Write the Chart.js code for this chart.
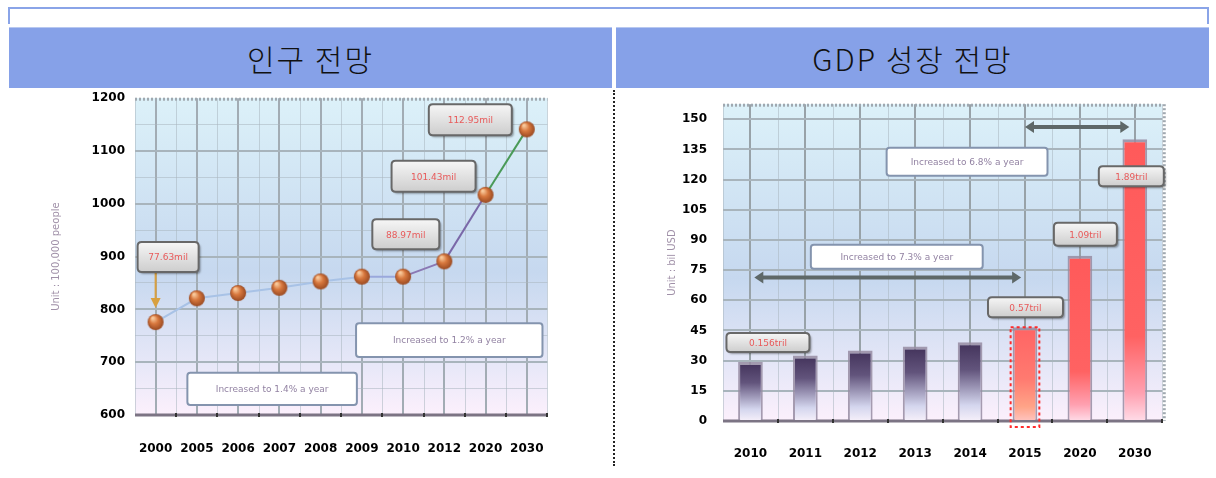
<!DOCTYPE html>
<html>
<head>
<meta charset="utf-8">
<script src="https://cdn.jsdelivr.net/npm/chart.js@4/dist/chart.umd.min.js"></script>
<style>
  body { margin:0; background:#fff; width:1216px; height:478px; position:relative; overflow:hidden; }
  .topline { position:absolute; left:8px; top:7px; width:1201px; height:2px; background:#8aa4e8; }
  .sideL { position:absolute; left:8px; top:7px; width:2px; height:17px; background:#8aa4e8; }
  .sideR { position:absolute; left:1207px; top:7px; width:2px; height:17px; background:#8aa4e8; }
  .head { position:absolute; top:27px; height:60px; background:#86a1e8; color:#111;
          font-family:"Noto Sans CJK KR", sans-serif; font-weight:300; font-size:30px; letter-spacing:2px;
          line-height:60px; text-align:center; border-top:1px solid #b8c8f0; }
  .sep { position:absolute; left:613px; top:90px; height:376px; border-left:2px dotted #222; }
  canvas { position:absolute; }
</style>
</head>
<body>
<div class="topline"></div><div class="sideL"></div><div class="sideR"></div>
<div class="head" style="left:9px;width:603px;">인구 전망</div>
<div class="head" style="left:616px;width:593px;">GDP 성장 전망</div>
<div class="sep"></div>
<canvas id="popChart" style="left:40px;top:81px;" width="531" height="384"></canvas>
<canvas id="gdpChart" style="left:660px;top:81px;" width="518" height="384"></canvas>
<script>
// population (unit: 100,000 people)
var popYears = ["2000","2005","2006","2007","2008","2009","2010","2012","2020","2030"];
var popValues = [776, 821, 831, 841, 853, 862, 862, 891, 1017, 1141];
var popLabels = ["77.63mil", "", "", "", "", "", "", "88.97mil", "101.43mil", "112.95mil"];

// GDP
var gdpYears = ["2010","2011","2012","2013","2014","2015","2020","2030"];
var gdpValues = [29.3, 32.6, 35.1, 37.1, 39.2, 46.6, 82.2, 140.1];
var gdpLabels = ["0.156tril", "", "", "", "", "0.57tril", "1.09tril", "1.89tril"];

var tickFont = { family: "DejaVu Sans", size: 12, weight: "bold" };

function ball(r) {
  var c = document.createElement('canvas');
  c.width = c.height = 2 * r + 2;
  var g = c.getContext('2d');
  var grad = g.createRadialGradient(r * 0.75, r * 0.6, 1, r + 1, r + 1, r);
  grad.addColorStop(0, '#f8c89a');
  grad.addColorStop(0.45, '#d8783e');
  grad.addColorStop(1, '#9a4a22');
  g.fillStyle = grad;
  g.beginPath(); g.arc(r + 1, r + 1, r, 0, Math.PI * 2); g.fill();
  return c;
}

function plotBg(chart) {
  var a = chart.chartArea, ctx = chart.ctx;
  var g = ctx.createLinearGradient(0, a.top, 0, a.bottom);
  g.addColorStop(0, '#dcf1f9');
  g.addColorStop(0.55, '#c6d8ef');
  g.addColorStop(0.85, '#e8e8f8');
  g.addColorStop(1, '#fcf0fc');
  ctx.save();
  ctx.fillStyle = g;
  ctx.fillRect(a.left, a.top, a.right - a.left, a.bottom - a.top);
  // minor vertical lines between categories
  var xs = chart.scales.x, n = chart.data.labels.length;
  ctx.strokeStyle = 'rgba(170,182,192,0.55)';
  ctx.lineWidth = 1;
  for (var i = 0; i <= n; i++) {
    var x = Math.round(xs.getPixelForValue(i - 0.5)) + 0.5;
    ctx.beginPath(); ctx.moveTo(x, a.top); ctx.lineTo(x, a.bottom); ctx.stroke();
  }
  ctx.restore();
}

function frame(chart, dottedRight) {
  var a = chart.chartArea, ctx = chart.ctx, xs = chart.scales.x, n = chart.data.labels.length;
  ctx.save();
  ctx.strokeStyle = '#a0a8b0';
  ctx.lineWidth = 3;
  ctx.setLineDash([2, 2]);
  ctx.beginPath(); ctx.moveTo(a.left, a.top + 1); ctx.lineTo(a.right, a.top + 1); ctx.stroke();
  if (dottedRight) {
    ctx.beginPath(); ctx.moveTo(a.right + 2, a.top); ctx.lineTo(a.right + 2, a.bottom); ctx.stroke();
  }
  ctx.setLineDash([]);
  // axis bar and small marks
  ctx.strokeStyle = '#7c7484';
  ctx.lineWidth = 3;
  ctx.beginPath(); ctx.moveTo(a.left, a.bottom); ctx.lineTo(a.right, a.bottom); ctx.stroke();
  ctx.fillStyle = '#333';
  for (var i = 0; i < n; i++) {
    var x = Math.round(xs.getPixelForValue(i + 0.5));
    ctx.fillRect(x - 1, a.bottom - 2, 2, 4);
  }
  ctx.restore();
}

function roundRect(ctx, x, y, w, h, r) {
  ctx.beginPath();
  ctx.moveTo(x + r, y); ctx.lineTo(x + w - r, y); ctx.quadraticCurveTo(x + w, y, x + w, y + r);
  ctx.lineTo(x + w, y + h - r); ctx.quadraticCurveTo(x + w, y + h, x + w - r, y + h);
  ctx.lineTo(x + r, y + h); ctx.quadraticCurveTo(x, y + h, x, y + h - r);
  ctx.lineTo(x, y + r); ctx.quadraticCurveTo(x, y, x + r, y);
  ctx.closePath();
}

function valueBox(ctx, x, y, w, h, text) {
  ctx.save();
  ctx.shadowColor = 'rgba(0,0,0,0.35)';
  ctx.shadowOffsetX = 2; ctx.shadowOffsetY = 2; ctx.shadowBlur = 2;
  var g = ctx.createLinearGradient(0, y, 0, y + h);
  g.addColorStop(0, '#f6f6f6'); g.addColorStop(1, '#cdcdcd');
  roundRect(ctx, x, y, w, h, 4);
  ctx.fillStyle = g; ctx.fill();
  ctx.shadowColor = 'transparent';
  ctx.strokeStyle = '#686868'; ctx.lineWidth = 2; ctx.stroke();
  ctx.fillStyle = '#e85a5a';
  ctx.font = '9px "DejaVu Sans"';
  ctx.textAlign = 'center'; ctx.textBaseline = 'middle';
  ctx.fillText(text, x + w / 2, y + h / 2 + 1);
  ctx.restore();
}

function noteBox(ctx, x1, y1, x2, y2, text) {
  ctx.save();
  roundRect(ctx, x1, y1, x2 - x1, y2 - y1, 3);
  ctx.fillStyle = '#ffffff'; ctx.fill();
  ctx.strokeStyle = '#8494ae'; ctx.lineWidth = 2; ctx.stroke();
  ctx.fillStyle = '#9282a2';
  ctx.font = '9px "DejaVu Sans"';
  ctx.textAlign = 'center'; ctx.textBaseline = 'middle';
  ctx.fillText(text, (x1 + x2) / 2, (y1 + y2) / 2 + 1);
  ctx.restore();
}

function dblArrow(ctx, x1, x2, y) {
  ctx.save();
  ctx.strokeStyle = '#5e6868'; ctx.fillStyle = '#5e6868';
  ctx.lineWidth = 4;
  ctx.beginPath(); ctx.moveTo(x1 + 6, y); ctx.lineTo(x2 - 6, y); ctx.stroke();
  [[x1, 1], [x2, -1]].forEach(function (p) {
    ctx.beginPath();
    ctx.moveTo(p[0], y); ctx.lineTo(p[0] + 9 * p[1], y - 6); ctx.lineTo(p[0] + 9 * p[1], y + 6);
    ctx.closePath(); ctx.fill();
  });
  ctx.restore();
}

// label boxes placed around their point: [dx, dy, w, h]
var popBoxPos = { 0: [-18, -80, 61, 30], 7: [-72, -42, 67, 30], 8: [-94, -34, 84, 31], 9: [-98, -25, 83, 31] };
var gdpBoxPos = { 0: [-24, -29, 83, 19], 5: [-37, -30, 75, 20], 6: [-26, -33, 63, 23], 7: [-36, 27, 65, 20] };

var popPlugin = {
  id: 'popDecor',
  beforeDatasetsDraw: function (chart) { frame(chart, false); },
  beforeDraw: function (chart) { plotBg(chart); },
  afterDatasetsDraw: function (chart) {
    var ctx = chart.ctx, xs = chart.scales.x, ys = chart.scales.y;
    var pts = chart.getDatasetMeta(0).data;
    noteBox(ctx, xs.getPixelForValue(4.86), ys.getPixelForValue(774), xs.getPixelForValue(9.38), ys.getPixelForValue(710), 'Increased to 1.2% a year');
    noteBox(ctx, xs.getPixelForValue(0.77), ys.getPixelForValue(680), xs.getPixelForValue(4.88), ys.getPixelForValue(619), 'Increased to 1.4% a year');
    // arrow from first label to first point
    var p0 = pts[0];
    ctx.save();
    ctx.strokeStyle = '#d8a040'; ctx.fillStyle = '#d8a040'; ctx.lineWidth = 2;
    ctx.beginPath(); ctx.moveTo(p0.x, p0.y - 50); ctx.lineTo(p0.x, p0.y - 22); ctx.stroke();
    ctx.beginPath(); ctx.moveTo(p0.x, p0.y - 14); ctx.lineTo(p0.x - 5, p0.y - 24); ctx.lineTo(p0.x + 5, p0.y - 24); ctx.closePath(); ctx.fill();
    ctx.restore();
    popLabels.forEach(function (t, i) {
      if (!t) return;
      var b = popBoxPos[i];
      valueBox(ctx, pts[i].x + b[0], pts[i].y + b[1], b[2], b[3], t);
    });
  }
};

var lineColors = ['#a8c2e6', '#a8c2e6', '#a8c2e6', '#a8c2e6', '#a8c2e6', '#9aa8dc', '#8a78b4', '#7a68a8', '#4a9a58'];

new Chart(document.getElementById('popChart'), {
  type: 'line',
  data: {
    labels: popYears,
    datasets: [{
      data: popValues,
      borderWidth: 2,
      borderColor: '#a8c2e6',
      segment: { borderColor: function (c) { return lineColors[c.p0DataIndex]; } },
      pointStyle: ball(8),
      pointRadius: 8,
      tension: 0
    }]
  },
  options: {
    responsive: false,
    animation: false,
    layout: { padding: { top: 0, right: 7 } },
    plugins: { legend: { display: false }, tooltip: { enabled: false } },
    scales: {
      x: {
        offset: true,
        grid: { offset: false, color: '#a2acb4', lineWidth: 2, drawTicks: false },
        border: { display: false },
        ticks: { font: tickFont, color: '#000', padding: 27, maxRotation: 0, autoSkip: false },
        afterFit: function (s) { s.height = 50; }
      },
      y: {
        min: 600, max: 1200,
        ticks: {
          stepSize: 50, font: tickFont, color: '#000', padding: 10,
          callback: function (v) { return v % 100 === 0 ? v : ''; }
        },
        grid: {
          drawTicks: false,
          color: function (c) { return c.tick.value >= 1200 ? 'transparent' : (c.tick.value % 100 === 0 ? '#a8b4bc' : 'rgba(170,182,192,0.55)'); },
          lineWidth: function (c) { return c.tick.value % 100 === 0 ? 2 : 1; }
        },
        border: { display: false },
        title: { display: true, text: 'Unit : 100,000 people', color: '#a090a8', font: { family: 'DejaVu Sans', size: 10 }, padding: { top: 10 } },
        afterFit: function (s) { s.width = 95; }
      }
    }
  },
  plugins: [popPlugin]
});

var gdpPlugin = {
  id: 'gdpDecor',
  beforeDraw: function (chart) { plotBg(chart); },
  beforeDatasetsDraw: function (chart) { frame(chart, true); },
  afterDatasetsDraw: function (chart) {
    var ctx = chart.ctx, xs = chart.scales.x, ys = chart.scales.y;
    var bars = chart.getDatasetMeta(0).data;
    // dashed outline on the current year bar
    var b5 = bars[5];
    ctx.save();
    ctx.strokeStyle = '#ff2a2a'; ctx.lineWidth = 2; ctx.setLineDash([3, 3]);
    ctx.strokeRect(b5.x - b5.width / 2 - 2, b5.y, b5.width + 4, b5.base - b5.y + 7);
    ctx.restore();
    dblArrow(ctx, xs.getPixelForValue(0.07), xs.getPixelForValue(4.93), ys.getPixelForValue(71.3));
    dblArrow(ctx, xs.getPixelForValue(5.0), xs.getPixelForValue(6.9), ys.getPixelForValue(146.2));
    noteBox(ctx, xs.getPixelForValue(1.10), ys.getPixelForValue(87.6), xs.getPixelForValue(4.23), ys.getPixelForValue(75.7), 'Increased to 7.3% a year');
    noteBox(ctx, xs.getPixelForValue(2.48), ys.getPixelForValue(135.8), xs.getPixelForValue(5.41), ys.getPixelForValue(121.9), 'Increased to 6.8% a year');
    gdpLabels.forEach(function (t, i) {
      if (!t) return;
      var p = gdpBoxPos[i];
      valueBox(ctx, bars[i].x + p[0], bars[i].y + p[1], p[2], p[3], t);
    });
  }
};

function barFill(c) {
  var chart = c.chart, ys = chart.scales.y;
  if (!chart.chartArea) return '#5a4a70';
  var i = c.dataIndex, v = gdpValues[i];
  var top = ys.getPixelForValue(v), base = ys.getPixelForValue(0);
  var g = chart.ctx.createLinearGradient(0, top, 0, base);
  if (i < 5) {
    g.addColorStop(0, '#42325a'); g.addColorStop(0.35, '#62547c');
    g.addColorStop(0.8, '#d4d6ee'); g.addColorStop(1, '#f6f0fa');
  } else if (i === 5) {
    g.addColorStop(0, '#ff6464'); g.addColorStop(0.55, '#ff7a70');
    g.addColorStop(0.85, '#ffa488'); g.addColorStop(1, '#ffc4c0');
  } else {
    g.addColorStop(0, '#ff5a5a'); g.addColorStop(0.7, '#ff6262');
    g.addColorStop(0.9, '#ffa0b0'); g.addColorStop(1, '#ffdce8');
  }
  return g;
}

new Chart(document.getElementById('gdpChart'), {
  type: 'bar',
  data: {
    labels: gdpYears,
    datasets: [{
      data: gdpValues,
      backgroundColor: barFill,
      borderColor: 'rgba(150,140,162,0.85)',
      borderWidth: { top: 3, left: 2, right: 2, bottom: 0 },
      borderSkipped: 'bottom',
      barPercentage: 0.45,
      categoryPercentage: 1
    }]
  },
  options: {
    responsive: false,
    animation: false,
    layout: { padding: { top: 0, right: 8 } },
    plugins: { legend: { display: false }, tooltip: { enabled: false } },
    scales: {
      x: {
        offset: true,
        grid: { offset: false, color: '#98a2a8', lineWidth: 2, drawTicks: false },
        border: { display: false },
        ticks: { font: tickFont, color: '#000', padding: 26, maxRotation: 0, autoSkip: false },
        afterFit: function (s) { s.height = 44; }
      },
      y: {
        min: 0, max: 157.5,
        ticks: {
          stepSize: 7.5, font: tickFont, color: '#000', padding: 16,
          callback: function (v) { return v % 15 === 0 ? v : ''; }
        },
        grid: {
          drawTicks: false,
          color: function (c) { return c.tick.value > 150 ? 'transparent' : (c.tick.value % 15 === 0 ? '#a8b4bc' : 'rgba(170,182,192,0.5)'); },
          lineWidth: function (c) { return c.tick.value % 15 === 0 ? 2 : 1; }
        },
        border: { display: false },
        title: { display: true, text: 'Unit : bil USD', color: '#a090a8', font: { family: 'DejaVu Sans', size: 10 }, padding: { top: 6 } },
        afterFit: function (s) { s.width = 63; }
      }
    }
  },
  plugins: [gdpPlugin]
});
</script>
</body>
</html>
